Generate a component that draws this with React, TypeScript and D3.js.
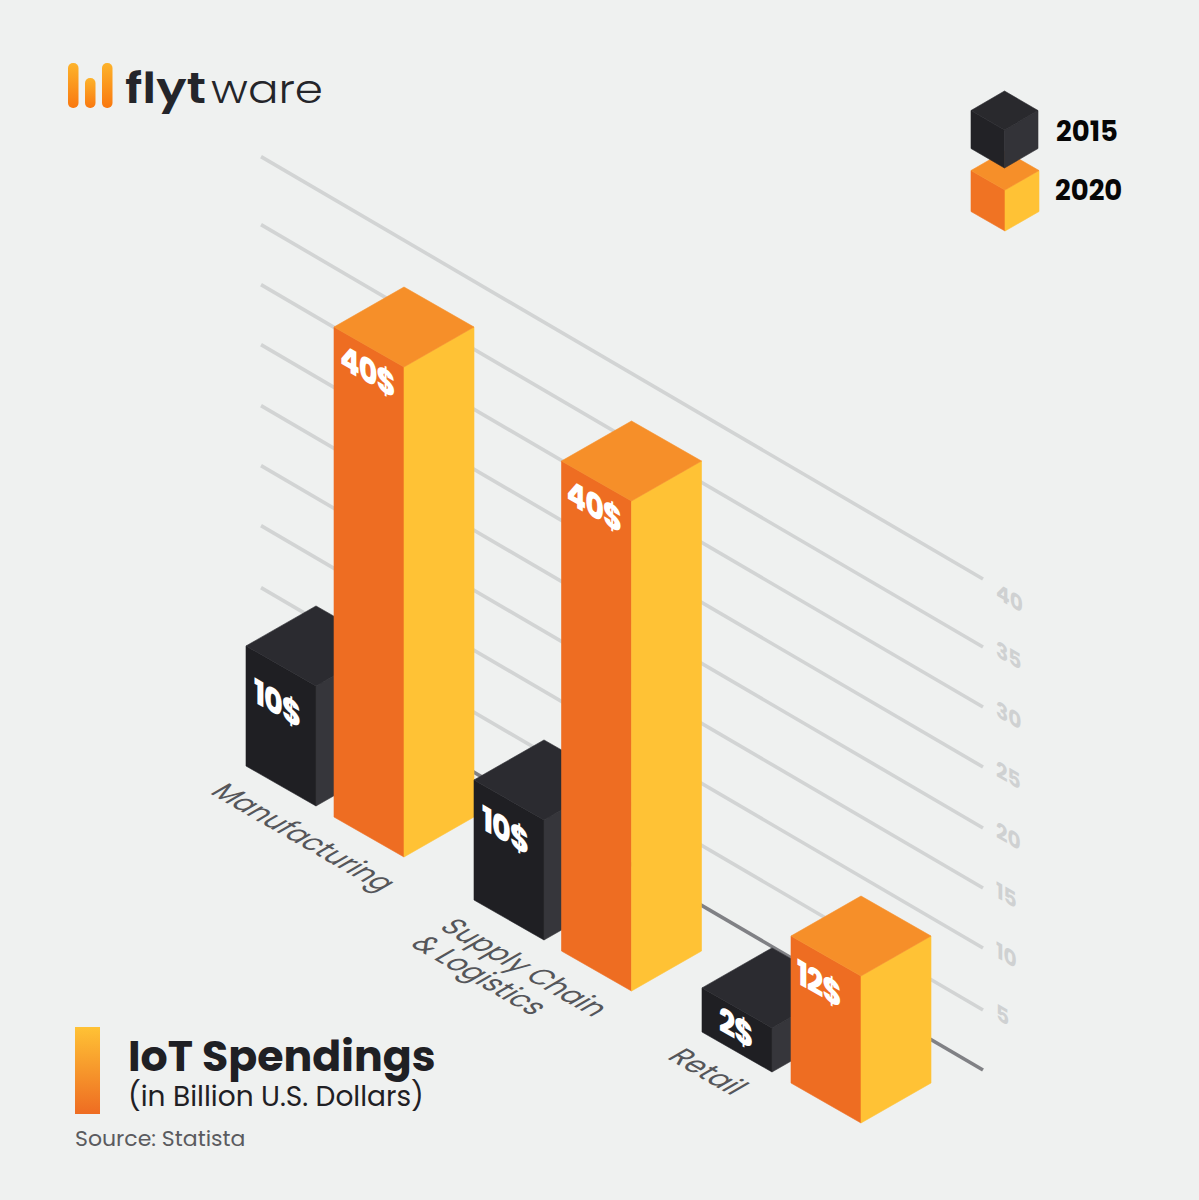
import React from "react";
import * as d3 from "d3";

const categories = ["Manufacturing", "Supply Chain", "Retail"];
const values2015 = [9.8, 9.8, 3.6];
const values2020 = [40, 40, 12];
const labels2015 = ["10$", "10$", "2$"];
const labels2020 = ["40$", "40$", "12$"];
const tickValues = [5, 10, 15, 20, 25, 30, 35, 40];
const gridDomain = [0, 5, 10, 15, 20, 25, 30, 35, 40];

const FONT = "Poppins, Inter, 'Noto Sans', sans-serif";
const W = 1199, H = 1200;
const BG = "#eff1f0";

// value -> height in px
const h = d3.scaleLinear().domain([0, 40]).range([0, 490]);
// value -> right end of gridline
const gridY = d3.scaleLinear().domain(gridDomain).range([1070, 1010, 948, 888, 828, 767, 707, 647, 579]);
// category -> front-bottom vertex
const front15x = d3.scaleOrdinal<string, number>().domain(categories).range([316, 544, 772]);
const front15y = d3.scaleOrdinal<string, number>().domain(categories).range([806, 940, 1072]);
const front20x = d3.scaleOrdinal<string, number>().domain(categories).range([404, 631.5, 861]);
const front20y = d3.scaleOrdinal<string, number>().domain(categories).range([857, 991, 1123]);

// label placement relative to the top front vertex of each bar
const label15Dx = [-62, -62, -53];
const label15Dy = [16, 9, 2];
const label20Dx = [-64, -65, -64];
const label20Dy = [0, 1, 7];

const skewFace = (x: number, y: number) => `matrix(0.92,0.53,0,1,${x},${y})`;
const labelFace = (x: number, y: number) => `matrix(0.92,0.53,0,1.1,${x},${y})`;
const ground = (x: number, y: number) => `matrix(0.866,0.5,-0.866,0.5,${x},${y})`;
const pts = (a: [number, number][]) => a.map((p) => p.join(",")).join(" ");

function Bar({ x, y, ht, hw, dy, top, left, right }: any) {
  const ty = y - ht;
  return (
    <g strokeWidth={0.6}>
      <polygon points={pts([[x, y], [x - hw, y - dy], [x - hw, ty - dy], [x, ty]])} fill={left} stroke={left} />
      <polygon points={pts([[x, y], [x + hw, y - dy], [x + hw, ty - dy], [x, ty]])} fill={right} stroke={right} />
      <polygon points={pts([[x, ty], [x - hw, ty - dy], [x, ty - 2 * dy], [x + hw, ty - dy]])} fill={top} stroke={top} />
    </g>
  );
}

export default function App() {
  const gx0 = 261, gx1 = 983, slope = 0.585;
  return (
    <svg width={W} height={H} viewBox={`0 0 ${W} ${H}`} style={{ position: "absolute", left: 0, top: 0, background: BG }}>
      <defs>
        <linearGradient id="logoG" x1="0" y1="0" x2="0" y2="1">
          <stop offset="0" stopColor="#fdb32b" />
          <stop offset="1" stopColor="#f9780f" />
        </linearGradient>
        <linearGradient id="titleG" x1="0" y1="0" x2="0" y2="1">
          <stop offset="0" stopColor="#ffc235" />
          <stop offset="1" stopColor="#ee6c22" />
        </linearGradient>
      </defs>
      <rect width={W} height={H} fill={BG} />

      {/* logo */}
      <g fill="url(#logoG)">
        <rect x={68} y={63} width={10.5} height={45} rx={5} />
        <rect x={85} y={78} width={10.5} height={30} rx={5} />
        <rect x={102} y={63} width={10.5} height={45} rx={5} />
      </g>
      <text x={125} y={103} fontFamily={FONT} fontSize={42} fontWeight={600} fill="#24252a" textLength={81} lengthAdjust="spacingAndGlyphs">flyt</text>
      <text x={211} y={103} fontFamily={FONT} fontSize={39} fontWeight={300} fill="#24252a" textLength={112} lengthAdjust="spacingAndGlyphs">ware</text>

      {/* gridlines */}
      {gridDomain.map((v) => {
        const ye = gridY(v);
        return (
          <line key={v} x1={gx0} x2={gx1} y1={ye - (gx1 - gx0) * slope} y2={ye}
            stroke={v === 0 ? "#808185" : "#d2d4d4"} strokeWidth={3.6} />
        );
      })}
      {tickValues.map((v) => (
        <text key={v} transform={skewFace(996, gridY(v) + (v === 40 ? 19 : 9))}
          fontFamily={FONT} fontSize={22} fontWeight={700} fill="#cfd1d2">{v}</text>
      ))}

      {/* bars */}
      {categories.map((c, i) => {
        const x15 = front15x(c), y15 = front15y(c);
        const x20 = front20x(c), y20 = front20y(c);
        const ht15 = h(values2015[i]), ht20 = h(values2020[i]);
        return (
          <g key={c}>
            <Bar x={x15} y={y15} ht={ht15} hw={70} dy={40} top="#2b2b30" left="#1f1f23" right="#36363b" />
            <Bar x={x20} y={y20} ht={ht20} hw={70} dy={40} top="#f68f29" left="#ee6d22" right="#ffc235" />
            <text transform={labelFace(x15 + label15Dx[i], y15 - ht15 + label15Dy[i])} fontFamily={FONT} fontSize={31} fontWeight={800} fill="#fff"
              style={{ letterSpacing: -1 }}>{labels2015[i]}</text>
            <text transform={labelFace(x20 + label20Dx[i], y20 - ht20 + label20Dy[i])} fontFamily={FONT} fontSize={31} fontWeight={800} fill="#fff"
              style={{ letterSpacing: -1 }}>{labels2020[i]}</text>
          </g>
        );
      })}

      {/* category labels */}
      <text transform={ground(209, 793)} fontFamily={FONT} fontSize={31} fill="#55565a" textLength={198} lengthAdjust="spacingAndGlyphs">{categories[0]}</text>
      <text transform={ground(438, 928)} fontFamily={FONT} fontSize={31} fill="#55565a" textLength={179} lengthAdjust="spacingAndGlyphs">{categories[1]}</text>
      <text transform={ground(409, 945)} fontFamily={FONT} fontSize={31} fill="#55565a" textLength={142} lengthAdjust="spacingAndGlyphs">&amp; Logistics</text>
      <text transform={ground(666, 1058)} fontFamily={FONT} fontSize={31} fill="#55565a" textLength={76} lengthAdjust="spacingAndGlyphs">{categories[2]}</text>

      {/* legend */}
      <Bar x={1005} y={231} hw={34} dy={19.5} ht={41} top="#f68f29" left="#f07323" right="#ffc235" />
      <Bar x={1004.5} y={168} hw={33.5} dy={19.5} ht={38} top="#29292d" left="#222226" right="#333338" />
      <text x={1056} y={141} fontFamily={FONT} fontSize={27.5} fontWeight={700} fill="#060606">2015</text>
      <text x={1055} y={200} fontFamily={FONT} fontSize={27.5} fontWeight={700} fill="#060606">2020</text>

      {/* title */}
      <rect x={75} y={1027} width={25} height={87} fill="url(#titleG)" />
      <text x={128} y={1071} fontFamily={FONT} fontSize={42.7} fontWeight={700} fill="#1f2024">IoT Spendings</text>
      <text x={128} y={1106} fontFamily={FONT} fontSize={28} fontWeight={400} fill="#1f2024">(in Billion U.S. Dollars)</text>
      <text x={75} y={1146} fontFamily={FONT} fontSize={22} fontWeight={400} fill="#5a5b5f">Source: Statista</text>
    </svg>
  );
}
